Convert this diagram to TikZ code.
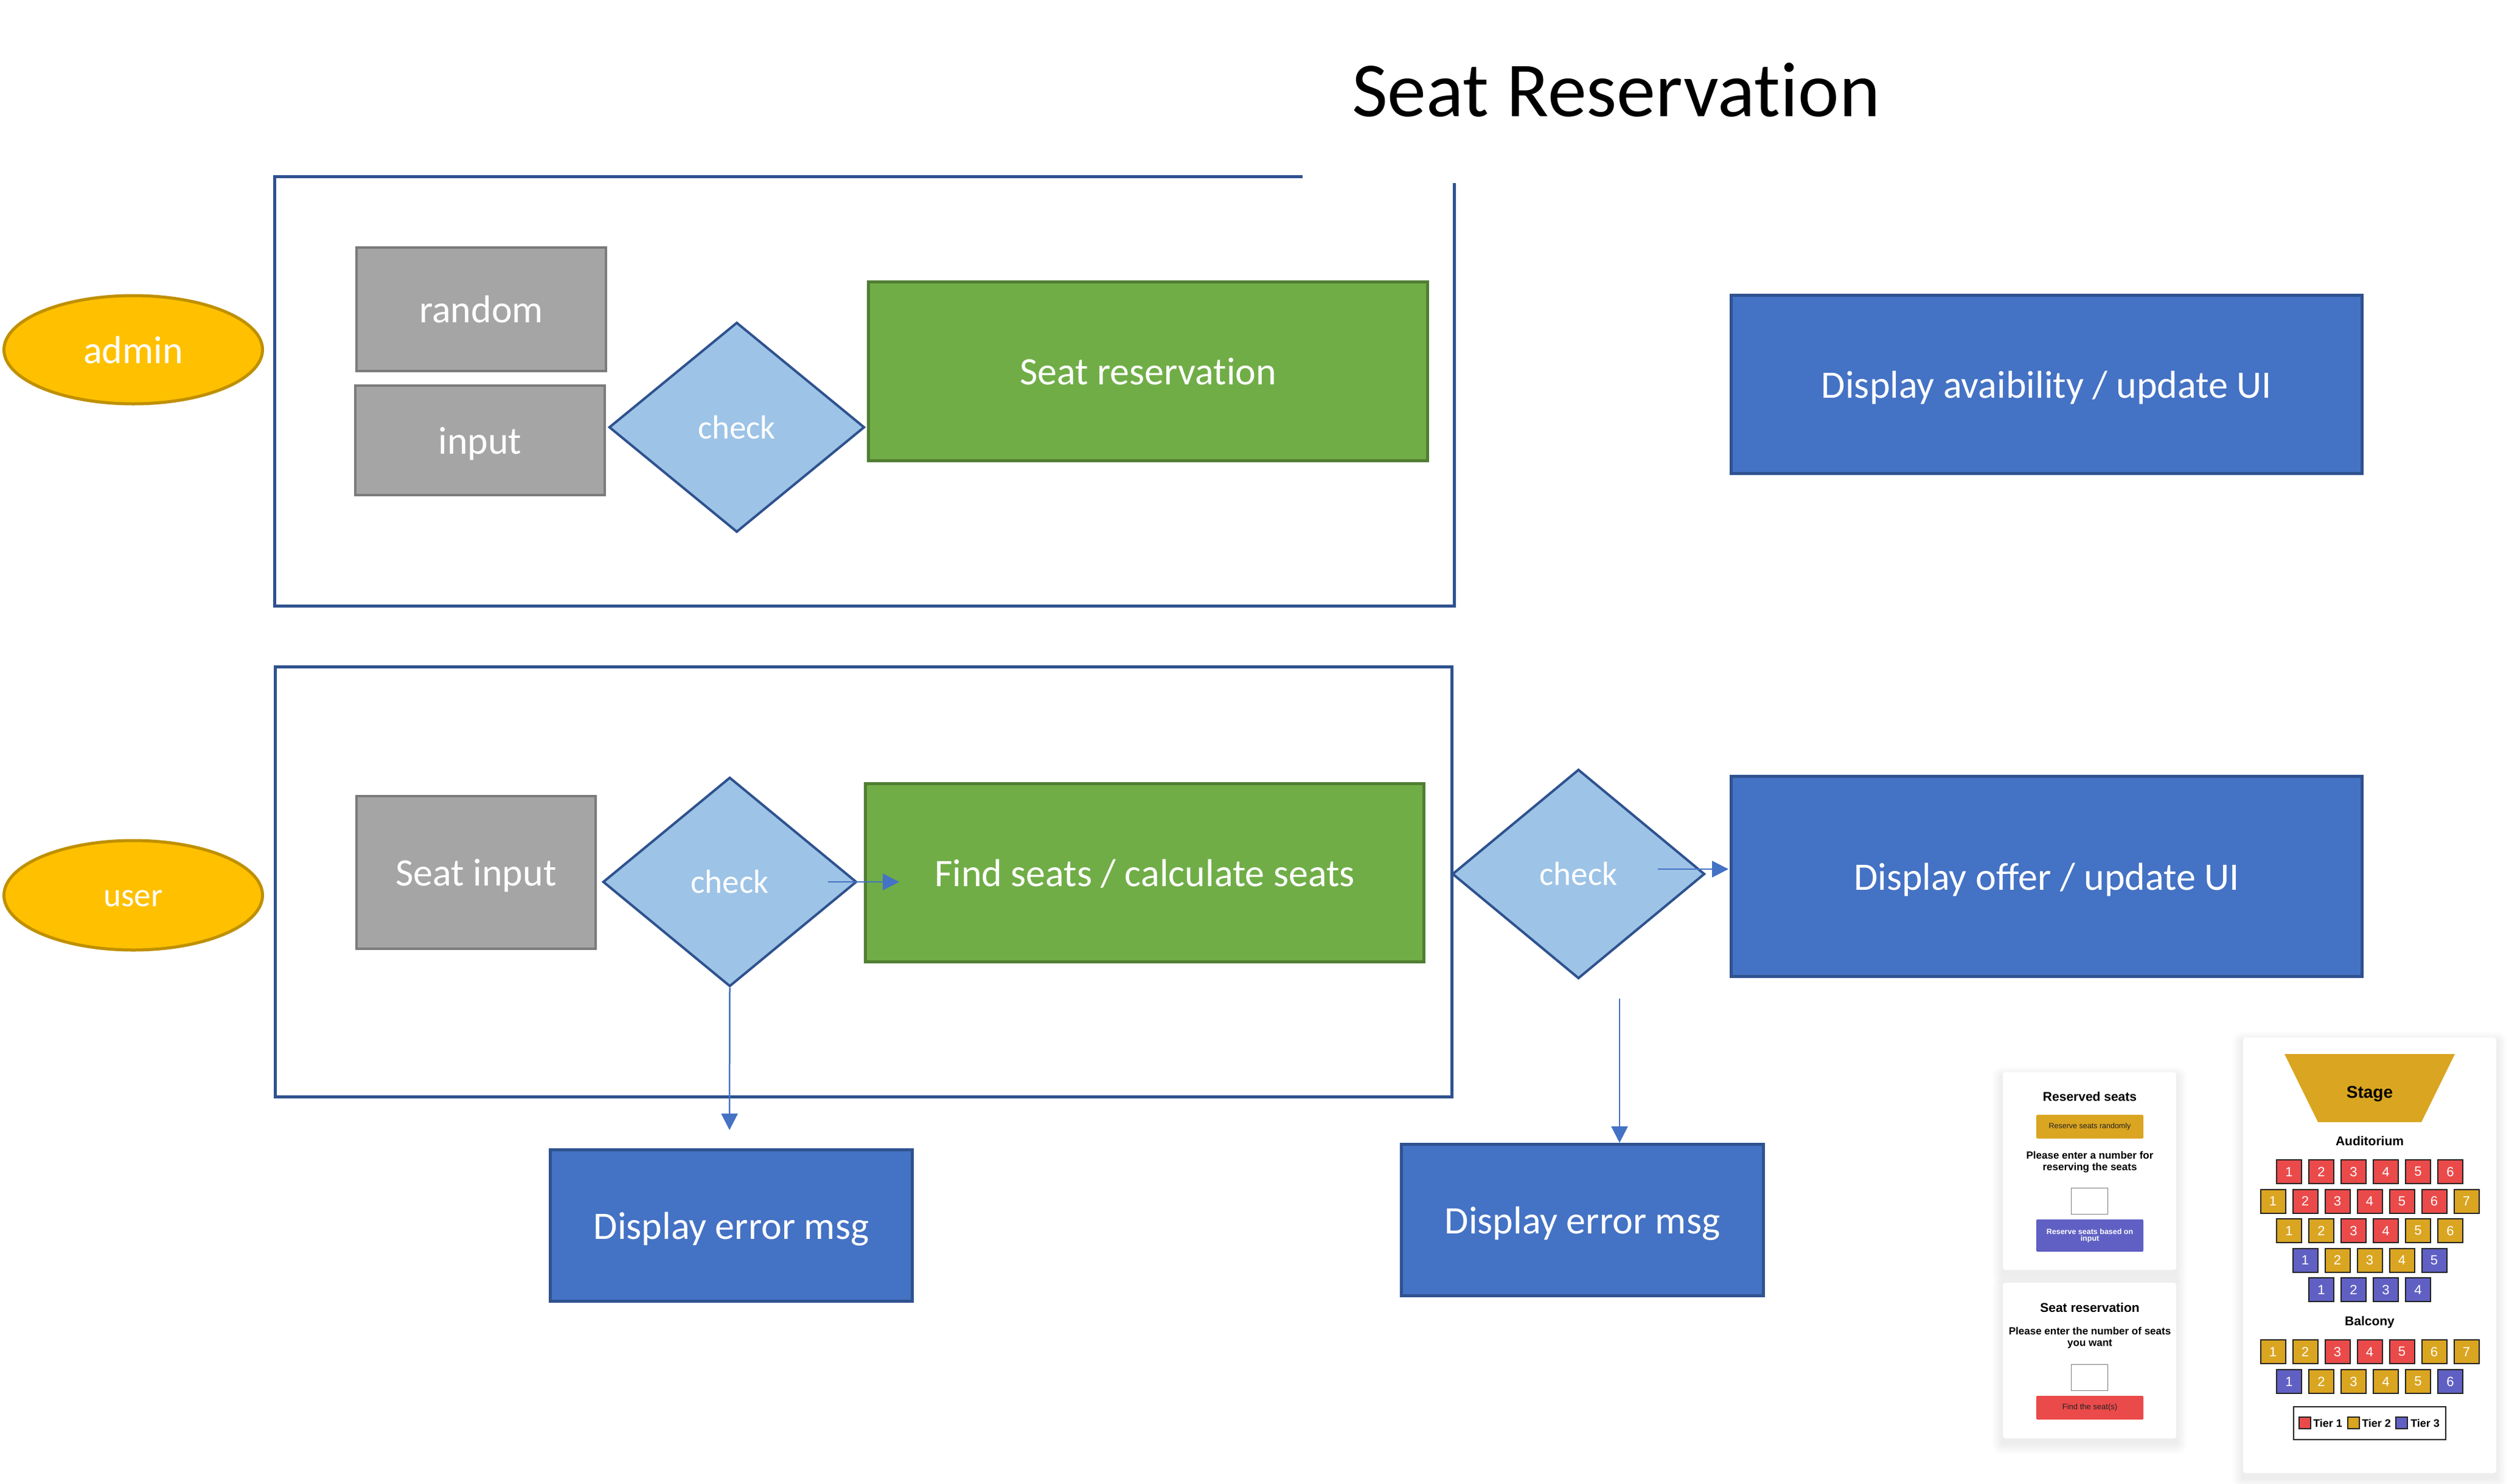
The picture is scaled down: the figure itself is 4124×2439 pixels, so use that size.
\documentclass[tikz,border=0pt]{standalone}
\usepackage{fontspec}
\setmainfont{Carlito}[Ligatures=NoCommon]
\newfontfamily\webfont{Liberation Sans}
\usetikzlibrary{shapes.geometric,arrows.meta,calc}
\definecolor{ogold}{HTML}{FFC000}
\definecolor{ogoldd}{HTML}{BF9000}
\definecolor{ogray}{HTML}{A5A5A5}
\definecolor{ograyd}{HTML}{7B7B7B}
\definecolor{ogreen}{HTML}{70AD47}
\definecolor{ogreend}{HTML}{507E32}
\definecolor{oblue}{HTML}{4472C4}
\definecolor{odark}{HTML}{2F528F}
\definecolor{olight}{HTML}{9DC3E6}
\definecolor{seatr}{HTML}{EB4A4A}
\definecolor{seatg}{HTML}{DAA520}
\definecolor{seatb}{HTML}{6060C4}
\definecolor{inkdark}{HTML}{222222}
\newcommand\fsz[1]{\fontsize{#1}{#1}\selectfont}
\newcommand\shadowbox[4]{%
  \foreach \k in {2,4,...,18}{%
    \fill[black,opacity=0.009,rounded corners=\k pt] (#1-\k,#2-\k+8) rectangle (#3+\k,#4+\k+8);}}
\newcommand\seatrow[4]{%
  \foreach \c [count=\i] in {#4}{%
    \node[seat, fill=seat\c] (#1-\i) at ({#2+21.5+(\i-1)*53},{#3+20.5}) {\i};}}
\begin{document}
\begin{tikzpicture}[x=1pt,y=-1pt,
  office/.style={inner sep=0pt, text=white, font=\fsz{64}, text height=61pt, text depth=17pt},
  actor/.style={office, ellipse, fill=ogold, draw=ogoldd, line width=5pt},
  graybox/.style={office, rectangle, fill=ogray, draw=ograyd, line width=4pt},
  greenbox/.style={office, rectangle, fill=ogreen, draw=ogreend, line width=5pt},
  bluebox/.style={office, rectangle, fill=oblue, draw=odark, line width=5pt},
  decision/.style={diamond, inner sep=0pt, fill=olight, draw=odark, line width=4pt,
    text=white, font=\fsz{55}, text height=52pt, text depth=15pt},
  flow/.style={draw=oblue, line width=2.5pt, -{Triangle[length=27pt,width=27pt]}},
  frame/.style={draw=odark, line width=5pt},
  card/.style={rectangle, fill=white, rounded corners=4pt, inner sep=0pt},
  wtext/.style={inner sep=0pt, anchor=base, font=\webfont\bfseries\fsz{21}},
  wsmall/.style={inner sep=0pt, anchor=base, font=\webfont\bfseries\fsz{17}},
  btn/.style={rectangle, rounded corners=2pt, inner sep=0pt, font=\webfont\fsz{12.5}},
  inbox/.style={rectangle, draw=gray, fill=white, line width=1.2pt, inner sep=0pt,
    minimum width=60pt, minimum height=43pt},
  seat/.style={rectangle, draw=inkdark, line width=2pt, inner sep=0pt, text=white,
    minimum width=41pt, minimum height=39pt, font=\webfont\fsz{22}},
  legsq/.style={rectangle, draw=inkdark, line width=2pt, inner sep=0pt,
    minimum width=19pt, minimum height=19pt},
  legtext/.style={inner sep=0pt, anchor=base west, font=\webfont\bfseries\fsz{18}}
]
\useasboundingbox (0,0) rectangle (4124,2439);
\fill[white] (0,0) rectangle (4124,2439);

% title
\node[inner sep=0pt, anchor=base west, font=\fsz{128}] (title) at (2222,191) {Seat Reservation};

% frames
\draw[frame] (2141,290.5) -- (451,290.5) -- (451,996) -- (2390,996) -- (2390,301);
\node[frame, rectangle, inner sep=0pt, minimum width=1934pt, minimum height=707pt] (userframe) at (1419,1449.5) {};

% admin lane
\node[actor, minimum width=425pt, minimum height=178pt] (admin) at (219,575) {admin};
\node[graybox, minimum width=410pt, minimum height=203pt] (random) at (791,508.5) {random};
\node[graybox, minimum width=410pt, minimum height=180pt] (input) at (789,724) {input};
\node[decision, minimum width=420pt, minimum height=345pt] (chk1) at (1211,702.5) {check};
\node[greenbox, minimum width=919pt, minimum height=294pt] (seatres) at (1887,610.5) {Seat reservation};
\node[bluebox, minimum width=1037pt, minimum height=293pt] (avail) at (3364,632) {Display avaibility / update UI};

% user lane
\node[actor, minimum width=425pt, minimum height=180pt, font=\fsz{55}, text height=52pt, text depth=15pt] (user) at (219,1472) {user};
\node[graybox, minimum width=393pt, minimum height=251pt] (seatin) at (782.5,1434.5) {Seat input};
\node[decision, minimum width=417pt, minimum height=344pt] (chk2) at (1199.5,1450) {check};
\node[greenbox, minimum width=918pt, minimum height=293pt] (find) at (1881.5,1435) {Find seats / calculate seats};
\node[decision, minimum width=415pt, minimum height=344pt] (chk3) at (2594.5,1437) {check};
\node[bluebox, minimum width=1037pt, minimum height=329pt] (offer) at (3364,1441) {Display offer / update UI};
\node[bluebox, minimum width=595pt, minimum height=249pt] (err1) at (1202,2015) {Display error msg};
\node[bluebox, minimum width=595pt, minimum height=249pt] (err2) at (2601,2006) {Display error msg};

% connectors
\draw[flow] ($(chk2.east)+(-49,0)$) -- ($(chk2.east -| find.west)+(58,0)$);
\draw[flow] ($(chk3.east)+(-79,-8)$) -- ($(chk3.east -| offer.west)+(-2,-8)$);
\draw[flow] (chk2.south) -- ($(err1.north)+(-3,-30)$);
\draw[flow] ($(err2.north)+(61,-237)$) -- ($(err2.north)+(61,0)$);

% ---------- mockup cards ----------
\shadowbox{3292}{1763}{3577}{2088}
\shadowbox{3292}{2109}{3577}{2365}
\shadowbox{3687}{1706}{4103}{2422}
\node[card, minimum width=285pt, minimum height=325pt] (card1) at (3434.5,1925.5) {};
\node[card, minimum width=285pt, minimum height=256pt] (card2) at (3434.5,2237) {};
\node[card, minimum width=416pt, minimum height=716pt] (card3) at (3895,2064) {};

% card 1
\node[wtext] (c1title) at (3435,1810) {Reserved seats};
\node[btn, fill=seatg, text=inkdark, minimum width=176pt, minimum height=39pt] (btnrand) at (3435,1852.5) {Reserve seats randomly};
\node[wsmall] (c1l1) at (3435,1905) {Please enter a number for};
\node[wsmall] (c1l2) at (3435,1924) {reserving the seats};
\node[inbox] (c1in) at (3434.5,1975) {};
\node[btn, fill=seatb, text=white, minimum width=176pt, minimum height=53pt, align=center,
  font=\webfont\bfseries\fsz{12.5}\linespread{1.1}] (btninput) at (3435,2031.5) {Reserve seats based on\\[-1pt]input};

% card 2
\node[wtext] (c2title) at (3435,2157) {Seat reservation};
\node[wsmall] (c2l1) at (3435,2194) {Please enter the number of seats};
\node[wsmall] (c2l2) at (3435,2213) {you want};
\node[inbox] (c2in) at (3434.5,2265) {};
\node[btn, fill=seatr, text=inkdark, minimum width=176pt, minimum height=39pt, font=\webfont\fsz{13}] (btnfind) at (3435,2314.5) {Find the seat(s)};

% card 3
\fill[seatg] (3755,1733) -- (4035,1733) -- (3980,1845) -- (3810,1845) -- cycle;
\node[inner sep=0pt, anchor=base, font=\webfont\bfseries\fsz{28}] (stage) at (3895,1805) {Stage};
\node[wtext] (audit) at (3895,1883) {Auditorium};
\seatrow{a1}{3741}{1906}{r,r,r,r,r,r}
\seatrow{a2}{3714.5}{1954.5}{g,r,r,r,r,r,g}
\seatrow{a3}{3741}{2003}{g,g,r,r,g,g}
\seatrow{a4}{3767.5}{2051.5}{b,g,g,g,b}
\seatrow{a5}{3794}{2100}{b,b,b,b}
\node[wtext] (balc) at (3895,2179) {Balcony};
\seatrow{b1}{3714.5}{2202}{g,g,r,r,r,g,g}
\seatrow{b2}{3741}{2251}{b,g,g,g,g,b}
\node[rectangle, draw=inkdark, line width=2pt, fill=white, inner sep=0pt, minimum width=250pt, minimum height=54pt] (legend) at (3895,2340) {};
\node[legsq, fill=seatr] (lg1) at (3788.5,2339.5) {};
\node[legtext] (lt1) at (3802,2346) {Tier 1};
\node[legsq, fill=seatg] (lg2) at (3868.5,2339.5) {};
\node[legtext] (lt2) at (3882,2346) {Tier 2};
\node[legsq, fill=seatb] (lg3) at (3947.5,2339.5) {};
\node[legtext] (lt3) at (3962,2346) {Tier 3};
\end{tikzpicture}
\end{document}
